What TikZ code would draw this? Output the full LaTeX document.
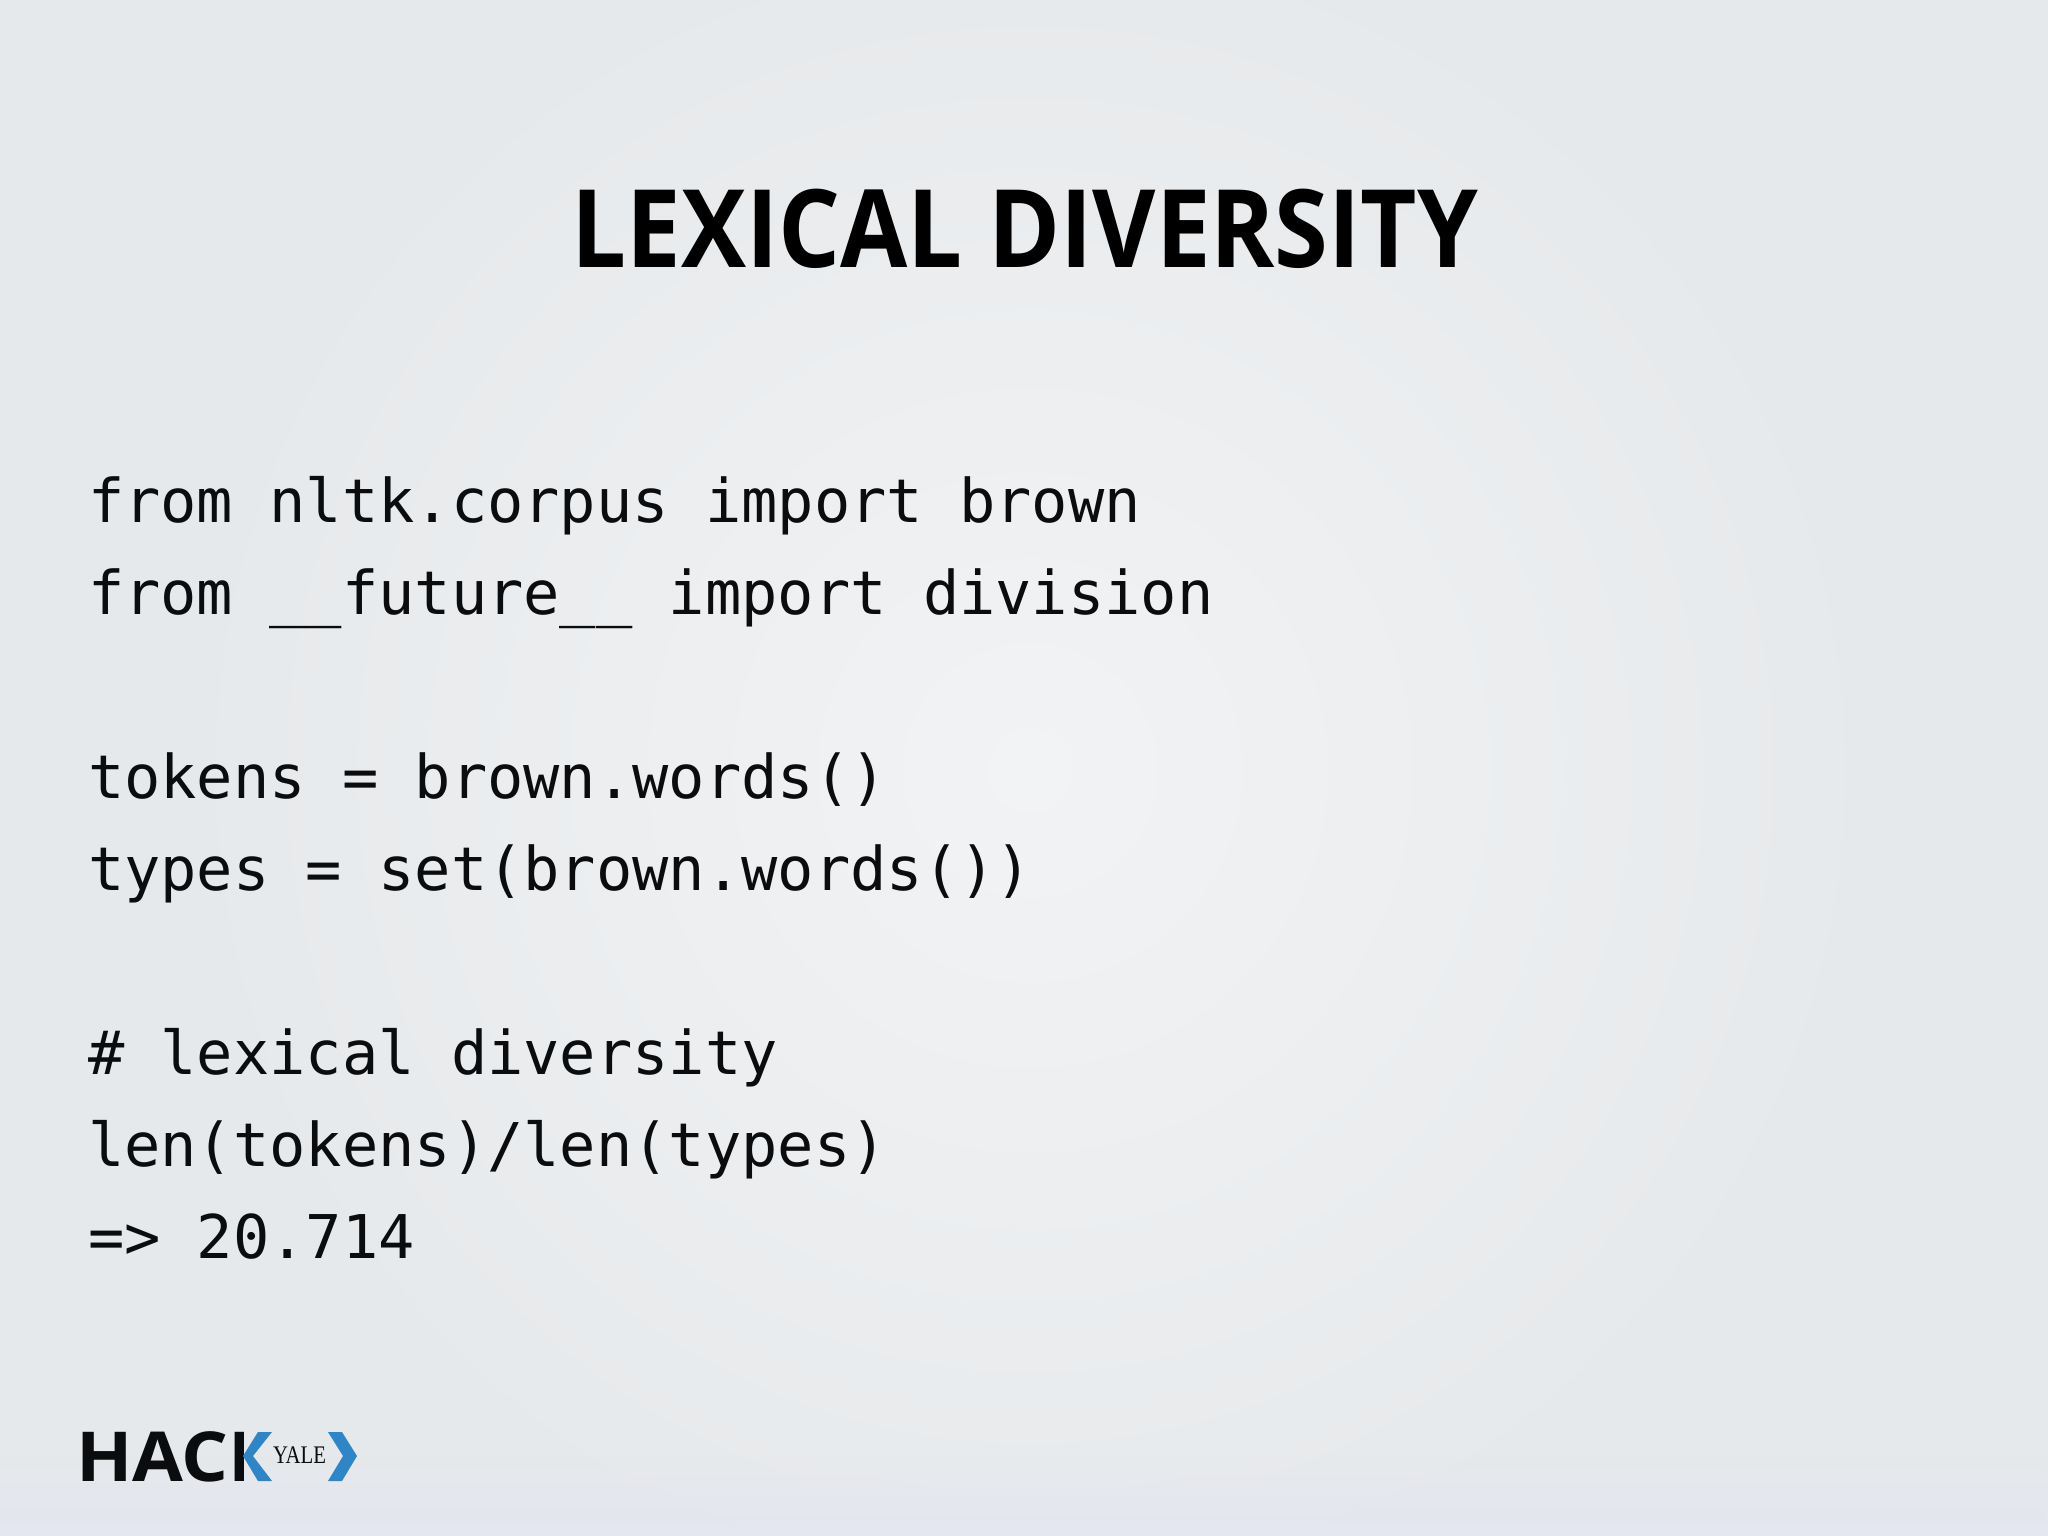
\documentclass[tikz,border=0pt]{standalone}
\usepackage{fontspec}
\usetikzlibrary{fadings}
\setmainfont{Open Sans}
\newfontfamily\codefont{DejaVu Sans Mono}
\newfontfamily\logoserif{Liberation Serif}
\definecolor{bgedge}{HTML}{E6E9EB}
\definecolor{bgcentre}{HTML}{F2F3F5}
\definecolor{bgfoot}{HTML}{E4E6F1}
\definecolor{ink}{HTML}{0A0C0E}
\definecolor{chevron}{HTML}{2F86C6}
\tikzset{
  codeline/.style={anchor=base west,inner sep=0pt,outer sep=0pt,text=ink,font=\codefont\fontsize{17.15pt}{20pt}\selectfont},
  titletext/.style={anchor=base,inner sep=0pt,outer sep=0pt,text=black,xscale=0.90,font=\bfseries\fontsize{30.8pt}{36pt}\selectfont},
  hacktext/.style={anchor=base west,inner sep=0pt,outer sep=0pt,text=ink,xscale=1.07,font=\bfseries\fontsize{19.6pt}{24pt}\selectfont},
  yaletext/.style={anchor=base west,inner sep=0pt,outer sep=0pt,text=ink,xscale=0.82,font=\logoserif\fontsize{7.2pt}{8pt}\selectfont},
  chevronshape/.style={fill=chevron,draw=none}
}
\begin{document}
\begin{tikzpicture}[x=0.01cm,y=-0.01cm]
\useasboundingbox (0,0) rectangle (2048,1536);
\begin{scope}
\clip (0,0) rectangle (2048,1536);
\fill[bgedge] (0,0) rectangle (2048,1536);
\shade[inner color=bgcentre,outer color=bgedge] (1030,770) circle (850);
\fill[bgfoot,path fading=north] (0,1456) rectangle (2048,1536);
\end{scope}
\node[titletext] (title) at (1025,267) {LEXICAL DIVERSITY};
\node[codeline] (c1) at (88,522) {from nltk.corpus import brown};
\node[codeline] (c2) at (88,614) {from \_\_future\_\_ import division};
\node[codeline] (c3) at (88,798) {tokens = brown.words()};
\node[codeline] (c4) at (88,890) {types = set(brown.words())};
\node[codeline] (c5) at (88,1074) {\# lexical diversity};
\node[codeline] (c6) at (88,1166) {len(tokens)/len(types)};
\node[codeline] (c7) at (88,1258) {=> 20.714};
\begin{scope}
\clip (60,1420) rectangle (243,1490);
\node[hacktext] (hack) at (76,1481) {HACK};
\end{scope}
\node[yaletext] (yale) at (273,1463) {YALE};
\fill[chevronshape] (258,1432) -- (272,1432) -- (253,1456) -- (272,1481) -- (258,1481) -- (243,1456) -- cycle;
\fill[chevronshape] (328,1432) -- (342,1432) -- (357,1456) -- (342,1481) -- (328,1481) -- (343,1456) -- cycle;
\end{tikzpicture}
\end{document}
